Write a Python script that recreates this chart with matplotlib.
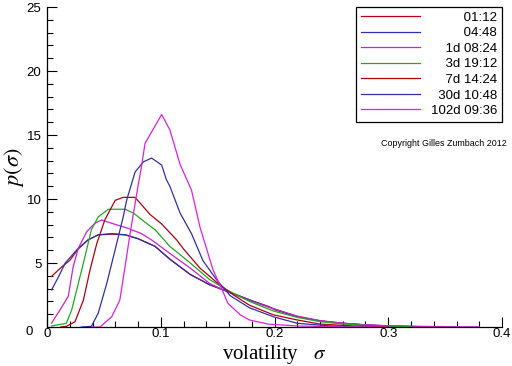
import matplotlib
matplotlib.use("Agg")
import matplotlib.pyplot as plt
from matplotlib.ticker import MultipleLocator

labels = ["01:12", "04:48", "1d 08:24", "3d 19:12", "7d 14:24", "30d 10:48", "102d 09:36"]
colors = ["#c00018", "#3030b0", "#d020d0", "#20a820", "#b00010", "#3030a8", "#e020e0"]

s_0112 = [0.004, 0.013, 0.02, 0.0275, 0.036, 0.045, 0.057, 0.069, 0.08, 0.095, 0.108, 0.126, 0.143, 0.155,
          0.167, 0.18, 0.195, 0.2, 0.22, 0.24, 0.26, 0.28, 0.3, 0.33]
p_0112 = [3.95, 4.7, 5.2, 6.1, 6.8, 7.2, 7.25, 7.2, 6.9, 6.3, 5.3, 4.1, 3.3, 2.9,
          2.5, 2.05, 1.6, 1.35, 0.8, 0.47, 0.29, 0.16, 0.08, 0.02]

s_0448 = [0.004, 0.01, 0.016, 0.022, 0.0275, 0.036, 0.045, 0.057, 0.069, 0.08, 0.095, 0.108, 0.126, 0.143,
          0.155, 0.167, 0.18, 0.2, 0.22, 0.24, 0.26, 0.28, 0.3, 0.33]
p_0448 = [2.9, 3.9, 5.0, 5.6, 6.15, 6.8, 7.2, 7.3, 7.2, 6.9, 6.3, 5.3, 4.1, 3.3,
          2.9, 2.5, 2.05, 1.4, 0.82, 0.48, 0.29, 0.16, 0.08, 0.02]

s_1d = [0.004, 0.0114, 0.0187, 0.023, 0.0275, 0.035, 0.042, 0.048, 0.057, 0.0715, 0.083, 0.092, 0.108,
        0.126, 0.143, 0.155, 0.167, 0.18, 0.2, 0.22, 0.24, 0.26, 0.28, 0.3, 0.33, 0.36, 0.38]
p_1d = [0.3, 1.33, 2.4, 4.7, 6.15, 7.45, 8.1, 8.36, 8.1, 7.7, 7.3, 6.8, 5.75,
        4.6, 3.4, 2.9, 2.45, 2.0, 1.4, 0.85, 0.5, 0.3, 0.18, 0.1, 0.05, 0.02, 0.01]

s_3d = [0.004, 0.017, 0.0217, 0.0275, 0.0334, 0.039, 0.045, 0.054, 0.0686, 0.076, 0.086, 0.095, 0.108,
        0.126, 0.143, 0.158, 0.178, 0.199, 0.22, 0.24, 0.26, 0.28, 0.3, 0.32]
p_3d = [0.08, 0.29, 1.33, 3.4, 5.5, 7.6, 8.6, 9.2, 9.2, 8.9, 8.2, 7.6, 6.3,
        5.0, 3.7, 2.9, 2.0, 1.25, 0.75, 0.42, 0.23, 0.13, 0.06, 0.02]

s_7d = [0.012, 0.017, 0.0246, 0.032, 0.0378, 0.0437, 0.051, 0.06, 0.067, 0.0774, 0.0905, 0.1008, 0.114,
        0.12, 0.1345, 0.149, 0.1565, 0.164, 0.178, 0.199, 0.22, 0.24, 0.269, 0.3]
p_7d = [0.0, 0.05, 0.41, 2.1, 4.45, 6.5, 8.4, 9.9, 10.13, 10.13, 8.8, 8.05, 6.8,
        6.1, 4.6, 3.5, 3.0, 2.5, 1.7, 0.95, 0.55, 0.23, 0.08, 0.02]

s_30d = [0.03, 0.039, 0.045, 0.0525, 0.0598, 0.067, 0.07, 0.0774, 0.0847, 0.092, 0.1008, 0.105, 0.108,
         0.117, 0.127, 0.137, 0.149, 0.161, 0.178, 0.199, 0.22, 0.249, 0.28]
p_30d = [0.0, 0.05, 1.07, 3.4, 6.0, 8.6, 9.9, 12.1, 12.9, 13.2, 12.65, 11.5, 11.0,
         8.9, 7.3, 5.2, 3.7, 2.45, 1.5, 0.8, 0.29, 0.08, 0.0]

s_102d = [0.04, 0.0466, 0.0569, 0.064, 0.0686, 0.073, 0.08, 0.083, 0.0862, 0.1008, 0.108, 0.117, 0.127,
          0.1345, 0.146, 0.154, 0.159, 0.17, 0.178, 0.194, 0.22, 0.25, 0.3]
p_102d = [0.0, 0.0, 0.8, 2.1, 4.7, 7.3, 11.0, 12.5, 14.35, 16.6, 15.4, 12.7, 10.7,
          7.8, 4.45, 2.9, 1.85, 0.94, 0.55, 0.23, 0.08, 0.03, 0.0]

series_s = [s_0112, s_0448, s_1d, s_3d, s_7d, s_30d, s_102d]
series_p = [p_0112, p_0448, p_1d, p_3d, p_7d, p_30d, p_102d]

plt.rcParams["mathtext.fontset"] = "stix"

fig = plt.figure(figsize=(5.12, 3.66), dpi=100)
ax = fig.add_axes([47 / 512, 39 / 366, 455 / 512, 320 / 366])

# pad labels so that they appear right-aligned (digits/d = 2 spaces wide)
pads = [9, 9, 4, 4, 4, 2, 0]
for s, p, c, lab, n in zip(series_s, series_p, colors, labels, pads):
    ax.plot(s, p, color=c, lw=0.9, label=" " * n + lab)

ax.set_xlim(0, 0.4)
ax.set_ylim(0, 25)
ax.xaxis.set_minor_locator(MultipleLocator(0.02))
ax.yaxis.set_minor_locator(MultipleLocator(1))
ax.set_xticks([0, 0.1, 0.2, 0.3, 0.4])
ax.set_xticklabels(["0", "0.1", "0.2", "0.3", "0.4"], fontfamily="Liberation Sans", fontsize=9.5)
ax.set_yticks([5, 10, 15, 20, 25])
ax.set_yticklabels(["5", "10", "15", "20", "25"], fontfamily="Liberation Sans", fontsize=9.5)
ax.text(-0.012, -0.4, "0", fontfamily="Liberation Sans", fontsize=9.5, ha="right", va="center")
ax.tick_params(which="major", direction="in", length=7, width=0.8)
ax.tick_params(which="minor", direction="in", length=4, width=0.8)
ax.tick_params(axis="y", which="major", pad=4)
ax.tick_params(axis="x", which="major", pad=1)
for side in ["top", "right"]:
    ax.spines[side].set_visible(False)
for side in ["left", "bottom"]:
    ax.spines[side].set_linewidth(0.9)

ax.set_xlabel(r"volatility   $\sigma$", fontfamily="Liberation Serif", fontsize=15, labelpad=2)
ax.set_ylabel(r"$p(\sigma)$", fontsize=16)
ax.yaxis.label.set_va("center")
ax.yaxis.set_label_coords(-(47 - 14) / 455, 0.5)

leg = ax.legend(loc="upper right", bbox_to_anchor=(1.0, 1.0), frameon=True, fancybox=False,
                edgecolor="black", framealpha=1, prop={"family": "Liberation Sans", "size": 9.5},
                handlelength=4.5, handletextpad=0.8, labelspacing=0.25, borderpad=0.35,
                borderaxespad=0.0)
leg.get_frame().set_linewidth(0.9)

fig.text(507 / 512, 1 - 143 / 366, "Copyright Gilles Zumbach 2012", fontfamily="Liberation Sans",
         fontsize=6.4, ha="right", va="center")

fig.savefig("out.png", dpi=100)
